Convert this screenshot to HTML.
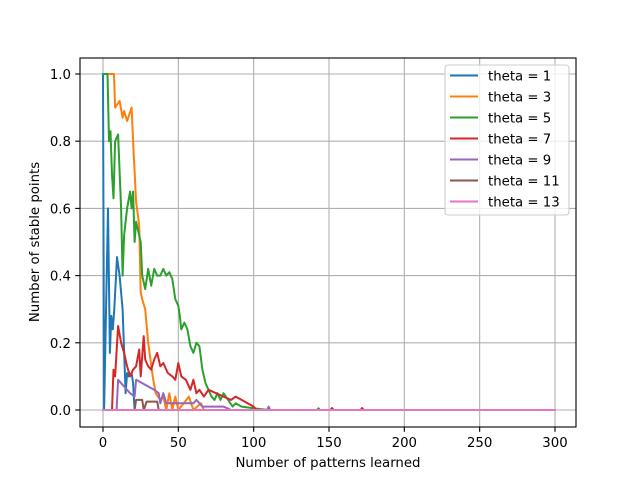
<!DOCTYPE html>
<html><head><meta charset="utf-8"><style>
body{margin:0;background:#fff;font-family:"DejaVu Sans","Liberation Sans",sans-serif}
</style></head><body>
<svg id="c" width="640" height="480" xmlns="http://www.w3.org/2000/svg" font-family="DejaVu Sans, Liberation Sans, sans-serif"></svg>
<script>
const xTicks=[0,50,100,150,200,250,300];
const yTicks=[0.0,0.2,0.4,0.6,0.8,1.0];
const yTickLabels=["0.0","0.2","0.4","0.6","0.8","1.0"];
const seriesNames=["theta = 1","theta = 3","theta = 5","theta = 7","theta = 9","theta = 11","theta = 13"];
const colors=["#1f77b4","#ff7f0e","#2ca02c","#d62728","#9467bd","#8c564b","#e377c2"];
const s1x=[0,0.7,3.3,4.6,5.5,6.5,7.5,9.3,11,13,15,16,17,19,20,21,300];
const s1y=[1.0,0,0.6,0.17,0.28,0.24,0.3,0.455,0.4,0.3,0.05,0.11,0.1,0.11,0.08,0,0];
const s3x=[0,7.3,8,11,13,14,16,19,20,22,24,25,26,28,30,33,35,38,40,42,44,46,48,50,57,60,65,67,300];
const s3y=[1.0,1.0,0.9,0.92,0.87,0.89,0.86,0.9,0.8,0.62,0.55,0.35,0.33,0.3,0.2,0.1,0.05,0.03,0.04,0,0.05,0,0.04,0,0.04,0,0.02,0,0];
const s5x=[0,3,4,5,6,7,8,10,12,13,14,16,18,19,20,21,22,25,26,28,30,32,34,36,38,40,42,44,46,48,50,51,52,54,56,58,60,62,64,66,68,70,72,74,76,78,80,83,86,88,92,100,110,142,143,144,300];
const s5y=[1.0,1.0,0.8,0.83,0.7,0.63,0.8,0.82,0.6,0.4,0.52,0.6,0.65,0.6,0.65,0.5,0.56,0.5,0.4,0.36,0.42,0.37,0.42,0.4,0.4,0.42,0.4,0.41,0.39,0.33,0.31,0.28,0.24,0.26,0.24,0.19,0.17,0.2,0.19,0.12,0.08,0.06,0.04,0.03,0.05,0.03,0.05,0.03,0.01,0.02,0.01,0.005,0,0,0.005,0,0];
const s7x=[0,6,7,8,10,12,14,16,18,20,22,24,25,27,28,30,32,34,36,38,40,43,46,48,50,52,55,58,60,62,64,67,70,75,80,85,88,92,96,100,102,151,152,153,171,172,173,300];
const s7y=[0,0,0.12,0.1,0.25,0.2,0.17,0.13,0.1,0.12,0.13,0.18,0.1,0.22,0.15,0.13,0.12,0.15,0.17,0.13,0.14,0.11,0.1,0.09,0.14,0.1,0.09,0.06,0.09,0.05,0.06,0.04,0.06,0.05,0.04,0.03,0.04,0.03,0.02,0.01,0,0,0.006,0,0,0.006,0,0];
const s9x=[0,9,10,14,18,21,22,26,30,34,37,38,40,42,50,60,62,66,80,85,109,110,111,300];
const s9y=[0,0,0.09,0.07,0.05,0.04,0.09,0.08,0.07,0.06,0.05,0.02,0.05,0.02,0.02,0.02,0.03,0.01,0.01,0,0,0.01,0,0];
const s11x=[0,21,22,26,27,29,36,37,300];
const s11y=[0,0,0.03,0.03,0,0.025,0.025,0,0];
const s13x=[0,300];
const s13y=[0,0];
const allX=[s1x,s3x,s5x,s7x,s9x,s11x,s13x];
const allY=[s1y,s3y,s5y,s7y,s9y,s11y,s13y];
const L=80,R=576,T=58,B=427;
const X=v=>103+(v-0)*(555-103)/300;
const Y=v=>410-v*336;
const svg=document.getElementById('c');
const NS="http://www.w3.org/2000/svg";
function mk(t,a,p){const e=document.createElementNS(NS,t);for(const k in a)e.setAttribute(k,a[k]);(p||svg).appendChild(e);return e;}
const grid=mk('g',{});


xTicks.forEach(t=>{mk('line',{x1:X(t),x2:X(t),y1:T,y2:B,stroke:'#b0b0b0','stroke-width':1.1},grid);});
yTicks.forEach(t=>{mk('line',{x1:L,x2:R,y1:Y(t),y2:Y(t),stroke:'#b0b0b0','stroke-width':1.1},grid);});
const clip=mk('clipPath',{id:'cp'});mk('rect',{x:L,y:T,width:R-L,height:B-T},clip);
const lines=mk('g',{'clip-path':'url(#cp)'});


allX.forEach((xs,i)=>{
  const d=xs.map((x,j)=>(j?'L':'M')+X(x).toFixed(1)+','+Y(allY[i][j]).toFixed(1)).join(' ');
  const p=mk('path',{d:d,fill:'none',stroke:colors[i],'stroke-width':2,'stroke-linejoin':'round','stroke-linecap':'square'},lines);
  
  
});
const frame=mk('rect',{x:L,y:T,width:R-L,height:B-T,fill:'none',stroke:'#000','stroke-width':1.1});


const xa=mk('g',{});


xTicks.forEach(t=>{mk('line',{x1:X(t),x2:X(t),y1:B,y2:B+4.8,stroke:'#000','stroke-width':1.1},xa);
  const tx=mk('text',{x:X(t),y:B+20,'font-size':13.3,'text-anchor':'middle'},xa);tx.textContent=t;});
const ya=mk('g',{});


yTicks.forEach((t,i)=>{mk('line',{x1:L-4.8,x2:L,y1:Y(t),y2:Y(t),stroke:'#000','stroke-width':1.1},ya);
  const tx=mk('text',{x:L-9,y:Y(t)+5,'font-size':13.3,'text-anchor':'end'},ya);tx.textContent=yTickLabels[i];});
const xt=mk('text',{x:328,y:467,'font-size':13.3,'text-anchor':'middle'});xt.textContent='Number of patterns learned';


const yt=mk('text',{x:0,y:0,'font-size':13.3,'text-anchor':'middle',transform:'translate(39,242) rotate(-90)'});yt.textContent='Number of stable points';


const lg=mk('g',{});


mk('rect',{x:445,y:65,width:124,height:150,rx:3,fill:'#fff','fill-opacity':0.8,stroke:'#ccc','stroke-width':1.1},lg);
seriesNames.forEach((n,i)=>{const y=75.5+i*21;
  const e=mk('g',{},lg);
  
  
  mk('line',{x1:450,x2:478,y1:y,y2:y,stroke:colors[i],'stroke-width':2},e);
  const tx=mk('text',{x:488,y:y+5,'font-size':13.3},e);tx.textContent=n;});
</script>
</body></html>
